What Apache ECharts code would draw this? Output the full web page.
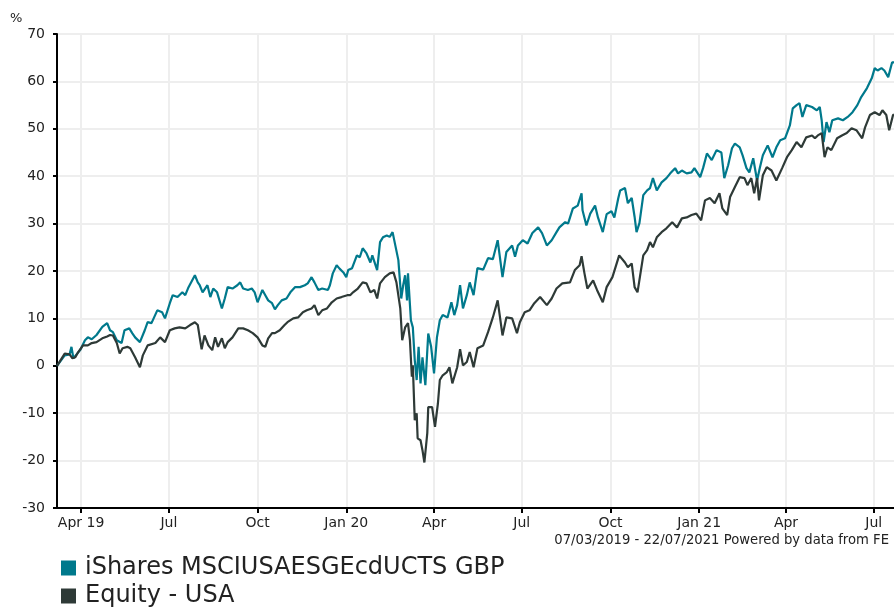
<!DOCTYPE html>
<html><head><meta charset="utf-8">
<script src="https://cdn.jsdelivr.net/npm/echarts@6/dist/echarts.min.js"></script>
<style>html,body{margin:0;padding:0;background:#fff}#c{width:894px;height:608px}</style>
</head><body><div id="c"></div>
<script>
// Readings: day offsets from 07/03/2019 and cumulative % values
const startDate = '2019-03-07';
const endDate = '2021-07-22';
const seriesNames = ['iShares MSCIUSAESGEcdUCTS GBP', 'Equity - USA'];

const fundDays = [
  0, 8, 13, 15, 17, 24, 29, 32, 36, 41, 47, 52, 55, 58, 62, 67, 70, 75, 78, 81,
  86, 91, 94, 98, 104, 109, 112, 117, 120, 125, 130, 133, 136, 143, 146, 148, 151, 156, 159, 162,
  166, 171, 174, 177, 182, 187, 190, 193, 198, 202, 205, 208, 213, 216, 219, 223, 226, 229, 233, 238,
  242, 247, 252, 257, 260, 264, 267, 271, 275, 281, 283, 286, 290, 293, 297, 300, 302, 306, 311, 314,
  317, 321, 325, 327, 332, 335, 338, 342, 345, 348, 350, 354, 357, 359, 361, 363, 364, 367, 369, 371,
  373, 375, 377, 379, 382, 385, 388, 391, 394, 397, 400, 405, 409, 412, 415, 418, 421, 425, 428, 432,
  436, 442, 447, 452, 457, 462, 466, 472, 475, 478, 483, 488, 493, 499, 503, 508, 513, 518, 521, 527,
  530, 535, 540, 544, 545, 549, 553, 558, 561, 566, 570, 575, 578, 582, 584, 589, 592, 596, 599, 601,
  604, 608, 612, 615, 618, 622, 627, 632, 636, 641, 644, 648, 653, 658, 661, 667, 670, 674, 679, 684,
  689, 692, 696, 700, 703, 708, 711, 715, 718, 722, 726, 729, 732, 737, 742, 746, 750, 755, 760, 763,
  767, 770, 773, 777, 783, 788, 791, 793, 795, 798, 801, 804, 810, 815, 820, 825, 830, 834, 840, 845,
  848, 851, 855, 858, 862, 866, 868
];
const fundValues = [
  0, 2.2, 2.4, 4.0, 1.6, 3.3, 5.4, 6.0, 5.6, 6.5, 8.2, 9.0, 7.5, 7.1, 5.4, 4.8, 7.5, 7.9, 6.9, 6.0,
  5.0, 7.5, 9.2, 9.0, 11.7, 11.3, 10.0, 13.2, 14.9, 14.5, 15.5, 14.9, 16.4, 19.1, 17.6, 17.0, 15.5, 17.0, 14.5, 16.3,
  15.5, 12.1, 14.2, 16.6, 16.3, 17.0, 17.6, 16.3, 16.0, 16.3, 15.5, 13.4, 16.0, 14.9, 13.8, 13.2, 11.9, 12.8, 13.8, 14.2,
  15.5, 16.6, 16.6, 17.0, 17.4, 18.7, 17.6, 16.0, 16.3, 16.0, 17.0, 19.5, 21.2, 20.5, 19.7, 18.7, 20.2, 20.6, 23.3, 22.9,
  24.8, 23.7, 21.8, 23.3, 20.2, 26.1, 27.1, 27.5, 27.2, 28.2, 28.6, 22.3, 14.2, 17.0, 19.1, 13.8, 19.5, 9.6, 8.1, 1.2,
  -3.0, 4.0, -3.7, 1.8, -4.1, 6.8, 4.0, -1.6, 6.0, 9.6, 10.7, 10.2, 13.4, 10.7, 12.8, 17.0, 12.1, 14.9, 17.6, 14.9,
  20.6, 20.3, 22.7, 22.5, 26.5, 18.7, 24.0, 25.4, 23.0, 25.4, 26.5, 25.8, 28.0, 29.2, 28.0, 25.4, 26.5, 28.2, 29.2, 30.3,
  30.0, 33.2, 33.8, 36.4, 32.8, 29.6, 32.1, 33.8, 31.3, 28.2, 32.0, 32.6, 31.3, 35.3, 37.0, 37.5, 34.3, 35.4, 31.4, 28.2,
  30.1, 36.0, 37.0, 37.5, 39.6, 37.0, 38.7, 39.6, 40.6, 41.7, 40.6, 41.2, 40.6, 40.8, 41.7, 39.8, 41.7, 44.8, 43.4, 45.5,
  45.0, 39.6, 42.3, 45.9, 46.9, 46.1, 44.4, 41.7, 40.8, 43.8, 39.1, 41.9, 44.4, 46.5, 44.0, 46.1, 47.6, 48.0, 50.7, 54.3,
  55.0, 55.4, 52.5, 55.0, 54.6, 53.9, 54.6, 51.8, 47.2, 51.4, 49.3, 51.8, 52.2, 51.8, 52.5, 53.5, 55.0, 56.7, 58.6, 60.7,
  62.8, 62.3, 62.8, 62.3, 60.9, 64.0, 64.0
];

const sectorDays = [
  0, 8, 13, 16, 19, 22, 27, 32, 36, 41, 47, 52, 55, 58, 62, 65, 68, 73, 76, 81,
  86, 89, 94, 102, 107, 112, 117, 122, 127, 133, 138, 143, 146, 148, 150, 153, 157, 161, 164, 167,
  171, 174, 177, 182, 188, 193, 198, 203, 208, 213, 216, 219, 223, 226, 231, 236, 239, 245, 250, 255,
  259, 264, 267, 271, 275, 280, 285, 290, 295, 301, 304, 307, 312, 317, 321, 325, 329, 332, 335, 340,
  345, 349, 352, 356, 358, 361, 364, 366, 368, 369, 371, 373, 374, 377, 379, 381, 384, 385, 387, 389,
  392, 395, 397, 400, 404, 407, 410, 415, 418, 421, 425, 428, 432, 436, 442, 447, 452, 457, 462, 466,
  472, 477, 480, 485, 490, 495, 501, 508, 513, 518, 524, 532, 537, 542, 544, 547, 550, 556, 560, 566,
  570, 576, 583, 589, 592, 596, 599, 602, 608, 612, 615, 618, 622, 627, 632, 638, 643, 648, 653, 658,
  663, 668, 672, 677, 682, 687, 690, 695, 698, 703, 708, 713, 716, 720, 723, 726, 728, 732, 736, 741,
  746, 752, 757, 762, 767, 772, 777, 783, 786, 789, 793, 796, 799, 803, 809, 814, 819, 824, 829, 835,
  838, 843, 848, 853, 856, 860, 863, 867, 868
];
const sectorValues = [
  0, 2.6, 2.4, 1.6, 1.8, 2.9, 4.3, 4.3, 4.8, 5.0, 5.8, 6.2, 6.5, 6.4, 4.8, 2.6, 3.7, 4.0, 3.7, 1.8,
  -0.3, 2.2, 4.3, 4.8, 6.0, 5.0, 7.5, 7.9, 8.1, 7.9, 8.6, 9.2, 8.6, 6.0, 3.5, 6.4, 4.3, 3.3, 6.0, 4.0,
  5.8, 3.7, 5.0, 6.0, 7.9, 7.9, 7.5, 6.9, 6.0, 4.3, 4.0, 5.8, 6.9, 6.9, 7.5, 8.6, 9.2, 10.0, 10.2, 11.3,
  11.7, 12.1, 12.8, 10.7, 11.7, 12.1, 13.4, 14.2, 14.5, 14.9, 14.9, 15.5, 16.3, 17.6, 17.4, 15.5, 16.0, 14.2, 17.4, 18.7,
  19.5, 19.7, 17.6, 12.1, 5.4, 8.1, 9.0, 5.4, -2.3, 0.1, -11.5, -10.0, -15.3, -15.7, -17.8, -20.4, -14.2, -8.7, -8.3, -8.7,
  -12.9, -8.0, -3.0, -2.0, -1.4, -0.3, -3.7, -0.3, 3.5, 0.1, 0.8, 2.9, -0.3, 3.7, 4.3, 7.1, 10.2, 13.8, 6.4, 10.2,
  10.0, 6.9, 9.2, 11.3, 11.7, 13.2, 14.5, 12.8, 14.2, 16.3, 17.4, 17.6, 20.2, 21.2, 23.1, 19.5, 16.3, 18.0, 16.0, 13.4,
  16.6, 18.7, 23.3, 21.8, 20.8, 21.6, 16.6, 15.5, 23.3, 24.4, 26.1, 25.0, 27.1, 28.2, 29.0, 30.3, 29.2, 31.1, 31.3, 31.8,
  32.1, 30.7, 34.9, 35.4, 34.3, 36.4, 33.2, 31.8, 35.6, 37.7, 39.8, 39.6, 38.1, 39.6, 36.4, 39.6, 34.9, 40.2, 41.9, 41.2,
  39.1, 41.7, 44.0, 45.5, 47.2, 46.1, 48.2, 48.6, 48.0, 48.6, 49.1, 44.0, 46.1, 45.5, 48.0, 48.6, 49.1, 50.1, 49.7, 48.0,
  50.3, 52.9, 53.5, 52.9, 53.9, 52.9, 49.7, 52.9, 53.0
];

const tickDates = ['2019-04-01','2019-07-01','2019-10-01','2020-01-01','2020-04-01',
                   '2020-07-01','2020-10-01','2021-01-01','2021-04-01','2021-07-01'];
const tickLabels = ['Apr 19','Jul','Oct','Jan 20','Apr','Jul','Oct','Jan 21','Apr','Jul'];
const yMin = -30, yMax = 70, yStep = 10;
const footnote = '07/03/2019 - 22/07/2021 Powered by data from FE';
const colors = ['#00798C', '#2E3A37'];

const DAY = 86400000;
function ts(s) { const p = s.split('-').map(Number); return Date.UTC(p[0], p[1] - 1, p[2]) / DAY; }
const t0 = ts(startDate);
const fundData = fundValues.map((v, i) => [t0 + fundDays[i], v]);
const sectorData = sectorValues.map((v, i) => [t0 + sectorDays[i], v]);
const tickDays = tickDates.map(ts);

const FONT = 'DejaVu Sans';
const chart = echarts.init(document.getElementById('c'), null, { renderer: 'canvas' });
chart.setOption({
  animation: false,
  backgroundColor: '#fff',
  textStyle: { fontFamily: FONT },
  title: [
    { text: '%', left: 10, top: 12, textStyle: { fontFamily: FONT, fontSize: 13, fontWeight: 'normal', color: '#222' }, padding: 0 },
    { text: footnote, right: 5, top: 534, textStyle: { fontFamily: FONT, fontSize: 13.2, fontWeight: 'normal', color: '#222' }, padding: 0 }
  ],
  legend: {
    orient: 'vertical', left: 61, top: 556, padding: 0, itemGap: 4,
    itemWidth: 15, itemHeight: 15, icon: 'rect',
    textStyle: { fontFamily: FONT, fontSize: 24, color: '#222', padding: [0, 0, 0, 4] },
    data: seriesNames
  },
  grid: { left: 57, right: 0, top: 34, bottom: 100, containLabel: false },
  xAxis: {
    type: 'value', min: ts(startDate), max: ts(endDate),
    axisLine: { show: true, onZero: false, lineStyle: { color: '#000', width: 2 } },
    axisTick: { show: true, length: 5, lineStyle: { color: '#000', width: 2 }, customValues: tickDays },
    axisLabel: {
      customValues: tickDays, margin: 8, fontSize: 14, fontFamily: FONT, color: '#222',
      formatter: function (v) {
        for (let k = 0; k < tickDays.length; k++) if (Math.abs(tickDays[k] - v) < 0.5) return tickLabels[k];
        return '';
      }
    },
    splitLine: { show: true, lineStyle: { color: '#EEEEEE', width: 2 } }
  },
  yAxis: {
    type: 'value', min: yMin, max: yMax, interval: yStep,
    axisLine: { show: true, lineStyle: { color: '#000', width: 2 } },
    axisTick: { show: true, length: 4, lineStyle: { color: '#000', width: 2 } },
    axisLabel: { margin: 12, fontSize: 14, fontFamily: FONT, color: '#222' },
    splitLine: { show: true, lineStyle: { color: '#EEEEEE', width: 2 } }
  },
  series: [
    { name: seriesNames[0], type: 'line', data: fundData, showSymbol: false, symbol: 'none',
      itemStyle: { color: colors[0] }, lineStyle: { color: colors[0], width: 2.2 } },
    { name: seriesNames[1], type: 'line', data: sectorData, showSymbol: false, symbol: 'none',
      itemStyle: { color: colors[1] }, lineStyle: { color: colors[1], width: 2.2 } }
  ]
});
</script></body></html>
